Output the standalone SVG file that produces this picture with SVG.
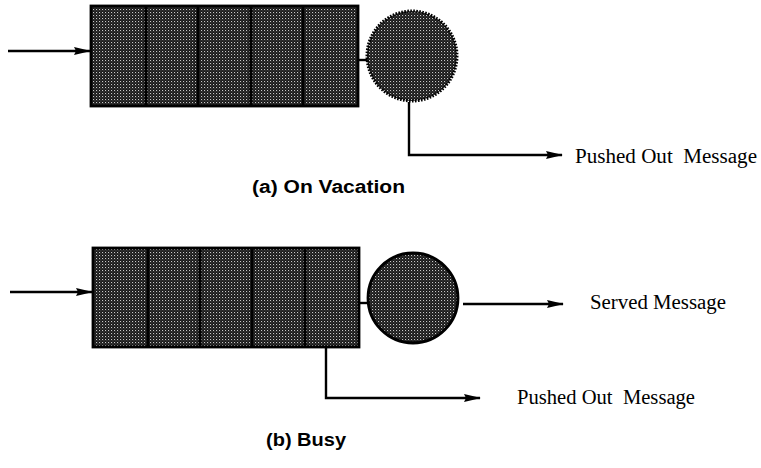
<svg xmlns="http://www.w3.org/2000/svg" width="761" height="468" viewBox="0 0 761 468">
<style>
.q{fill:url(#hatch);stroke:#000;stroke-width:2.8}
.div{stroke:#000;stroke-width:2.8}
.ln{fill:none;stroke:#000;stroke-width:2.4}
.arr{fill:none;stroke:#000;stroke-width:2.4;marker-end:url(#ah)}
.t{font-family:"Liberation Serif","Times New Roman",serif;font-size:20px;fill:#000}
.cap{font-family:"Liberation Sans",Arial,sans-serif;font-weight:bold;font-size:18px;fill:#000}
</style>
<defs>
<pattern id="hatch" width="3" height="3" patternUnits="userSpaceOnUse">
<rect width="3" height="3" fill="#181818"/>
<rect x="0" y="0" width="1.1" height="1.1" fill="#c8c8c8"/>
<rect x="1.5" y="1.5" width="0.9" height="0.9" fill="#7a7a7a"/>
</pattern>
<marker id="ah" markerWidth="17" markerHeight="9" refX="16" refY="4.5" orient="auto" markerUnits="userSpaceOnUse">
<path d="M0,0.5 L17,4.5 L0,8.5 L2,4.5 Z" fill="#000"/>
</marker>
</defs>
<g id="connectors">
<line class="arr" x1="8" y1="51" x2="90" y2="51"/>
<line class="ln" x1="358" y1="60" x2="368" y2="60"/>
<polyline class="arr" points="409,102 409,155 562,155"/>
<line class="arr" x1="10" y1="292" x2="92" y2="292"/>
<line class="ln" x1="359" y1="303" x2="368" y2="303"/>
<line class="arr" x1="463" y1="304" x2="563" y2="304"/>
<polyline class="arr" points="326,347 326,398 480,398"/>
</g>
<g id="queue-a">
<rect class="q" x="91" y="6" width="267" height="100"/>
<line class="div" x1="146" y1="6" x2="146" y2="106"/>
<line class="div" x1="198" y1="6" x2="198" y2="106"/>
<line class="div" x1="251" y1="6" x2="251" y2="106"/>
<line class="div" x1="303" y1="6" x2="303" y2="106"/>
</g>
<g id="server-a">
<circle cx="412" cy="56" r="45" fill="url(#hatch)" stroke="#000" stroke-width="3" stroke-dasharray="1.6 1.4"/>
</g>
<g id="label-a-pushed">
<text class="t" x="575" y="163" textLength="182" lengthAdjust="spacingAndGlyphs">Pushed Out&#160; Message</text>
</g>
<g id="caption-a">
<text class="cap" x="252" y="193" textLength="153" lengthAdjust="spacingAndGlyphs">(a) On Vacation</text>
</g>
<g id="queue-b">
<rect class="q" x="93" y="248" width="266" height="99"/>
<line class="div" x1="148" y1="248" x2="148" y2="347"/>
<line class="div" x1="200" y1="248" x2="200" y2="347"/>
<line class="div" x1="252" y1="248" x2="252" y2="347"/>
<line class="div" x1="305" y1="248" x2="305" y2="347"/>
</g>
<g id="server-b">
<circle cx="413" cy="298" r="45" fill="url(#hatch)" stroke="#000" stroke-width="2.8"/>
</g>
<g id="label-b-served">
<text class="t" x="590" y="309" textLength="136" lengthAdjust="spacingAndGlyphs">Served Message</text>
</g>
<g id="label-b-pushed">
<text class="t" x="517" y="404" textLength="178" lengthAdjust="spacingAndGlyphs">Pushed Out&#160; Message</text>
</g>
<g id="caption-b">
<text class="cap" x="266" y="446" textLength="80" lengthAdjust="spacingAndGlyphs">(b) Busy</text>
</g>
</svg>
